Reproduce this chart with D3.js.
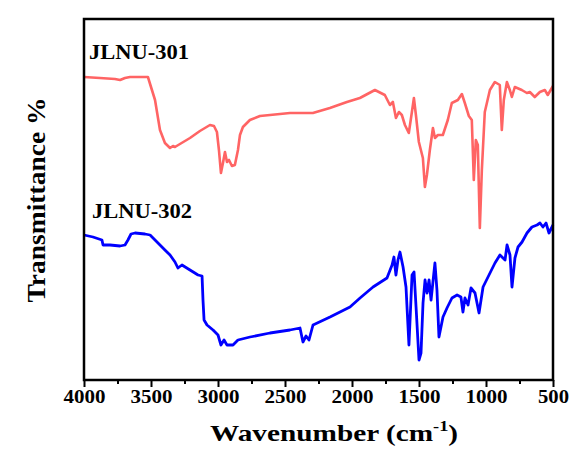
<!DOCTYPE html>
<html>
<head>
<meta charset="utf-8">
<script src="https://cdn.jsdelivr.net/npm/d3@7"></script>
<style>
  body { margin: 0; background: #fff; }
  text { font-family: "Liberation Serif", "Times New Roman", serif; font-weight: bold; fill: #000; }
</style>
</head>
<body>
<div id="wrapper"></div>
<script>
// FTIR spectra, transmittance in arbitrary units
const wn301 = [4000, 3881, 3769, 3731, 3694, 3657, 3582, 3523, 3493, 3470, 3433, 3396, 3358, 3336, 3321, 3284,
  3209, 3135, 3060, 3030, 3008, 2993, 2978, 2963, 2948, 2933, 2918, 2896, 2874, 2851, 2836, 2814, 2762, 2687,
  2612, 2463, 2292, 2165, 2038, 1941, 1829, 1755, 1717, 1695, 1672, 1650, 1628, 1605, 1576, 1553, 1538, 1523,
  1501, 1471, 1456, 1441, 1419, 1396, 1381, 1359, 1322, 1285, 1255, 1210, 1180, 1158, 1128, 1106, 1091, 1076,
  1061, 1046, 1031, 1009, 971, 934, 897, 882, 867, 844, 822, 807, 785, 733, 695, 673, 636, 598, 561, 539, 500];
const t301 = [303, 302, 301, 300, 302, 303, 303, 303, 290, 280, 250, 237, 232, 234, 233, 236,
  242, 249, 255, 254, 248, 230, 207, 217, 228, 218, 220, 214, 215, 230, 245, 253, 260, 264,
  265, 267, 267, 272, 278, 282, 290, 285, 275, 278, 262, 268, 265, 255, 247, 268, 282, 265,
  238, 222, 193, 205, 230, 252, 242, 245, 245, 260, 277, 280, 286, 277, 264, 260, 200, 240,
  235, 152, 210, 268, 290, 298, 295, 250, 280, 298, 290, 283, 293, 290, 287, 288, 283, 288, 290, 285, 294];

const wn302 = [4000, 3933, 3866, 3858, 3806, 3731, 3694, 3672, 3649, 3619, 3545, 3507, 3470, 3396, 3358, 3321,
  3299, 3269, 3209, 3149, 3119, 3112, 3104, 3082, 3037, 3000, 2978, 2955, 2933, 2888, 2851, 2761, 2612, 2463,
  2388, 2366, 2343, 2321, 2291, 2164, 2015, 1940, 1843, 1739, 1701, 1687, 1672, 1657, 1642, 1619, 1597, 1575,
  1552, 1537, 1522, 1500, 1485, 1470, 1455, 1440, 1425, 1410, 1396, 1381, 1366, 1351, 1321, 1291, 1254, 1216,
  1187, 1172, 1157, 1134, 1112, 1082, 1052, 1022, 985, 933, 896, 858, 843, 821, 806, 784, 761, 731, 694, 657,
  619, 597, 575, 552, 530, 500];
const t302 = [145, 143, 140, 135, 135, 134, 135, 140, 146, 147, 146, 145, 140, 130, 125, 118,
  112, 115, 110, 105, 104, 80, 60, 55, 50, 45, 35, 40, 35, 35, 40, 43, 47, 50,
  52, 38, 44, 40, 55, 63, 73, 82, 93, 102, 115, 123, 105, 120, 128, 113, 93, 35,
  105, 108, 73, 20, 27, 77, 100, 87, 100, 80, 98, 117, 90, 43, 63, 72, 82, 85,
  83, 68, 82, 75, 92, 87, 67, 93, 103, 117, 125, 120, 135, 125, 93, 122, 133, 138, 147, 153,
  155, 157, 153, 157, 147, 155];

const xTicks = [4000, 3500, 3000, 2500, 2000, 1500, 1000, 500];
const xMinor = [3750, 3250, 2750, 2250, 1750, 1250, 750];
const labels = ["JLNU-301", "JLNU-302"];

const width = 572, height = 450;
const margin = { top: 19, right: 19, bottom: 70, left: 84 };

const svg = d3.select("#wrapper").append("svg")
  .attr("width", width)
  .attr("height", height);

const x = d3.scaleLinear()
  .domain([4000, 500])
  .range([margin.left, width - margin.right]);

const y = d3.scaleLinear()
  .domain([0, 361])
  .range([height - margin.bottom, margin.top]);

// minor ticks first, then majors with labels
svg.append("g")
  .attr("transform", `translate(0,${height - margin.bottom})`)
  .call(d3.axisBottom(x).tickValues(xMinor).tickSize(4).tickFormat("").tickSizeOuter(0))
  .call(g => g.select(".domain").remove())
  .call(g => g.selectAll("line").attr("stroke", "#000").attr("stroke-width", 2));

const axisX = svg.append("g")
  .attr("transform", `translate(0,${height - margin.bottom})`)
  .call(d3.axisBottom(x).tickValues(xTicks).tickSize(7).tickPadding(3).tickFormat(d3.format("d")).tickSizeOuter(0));
axisX.select(".domain").remove();
axisX.selectAll("line").attr("stroke", "#000").attr("stroke-width", 2);
axisX.selectAll("text")
  .attr("font-size", 19)
  .attr("fill", "#000")
  .attr("textLength", d => d >= 1000 ? 42 : 31)
  .attr("lengthAdjust", "spacingAndGlyphs");

const line = d3.line()
  .x(d => x(d[0]))
  .y(d => y(d[1]));

svg.append("path")
  .datum(d3.zip(wn301, t301))
  .attr("fill", "none")
  .attr("stroke", "#ff6464")
  .attr("stroke-width", 2.6)
  .attr("stroke-linejoin", "round")
  .attr("d", line);

svg.append("path")
  .datum(d3.zip(wn302, t302))
  .attr("fill", "none")
  .attr("stroke", "#0000ff")
  .attr("stroke-width", 2.8)
  .attr("stroke-linejoin", "round")
  .attr("d", line);

// frame
svg.append("rect")
  .attr("x", margin.left)
  .attr("y", margin.top)
  .attr("width", width - margin.left - margin.right)
  .attr("height", height - margin.top - margin.bottom)
  .attr("fill", "none")
  .attr("stroke", "#000")
  .attr("stroke-width", 2.5);

svg.append("text")
  .attr("x", 89).attr("y", 59)
  .attr("font-size", 21)
  .attr("textLength", 100)
  .attr("lengthAdjust", "spacingAndGlyphs")
  .text(labels[0]);

svg.append("text")
  .attr("x", 92).attr("y", 218)
  .attr("font-size", 21)
  .attr("textLength", 100)
  .attr("lengthAdjust", "spacingAndGlyphs")
  .text(labels[1]);

// x title, stretched sideways like the source figure
const xTitle = svg.append("text")
  .attr("transform", "translate(210,441) scale(1.22,1)")
  .attr("font-size", 24);
xTitle.append("tspan").text("Wavenumber (cm");
xTitle.append("tspan").attr("font-size", 15).attr("dy", -10).text("-1");
xTitle.append("tspan").attr("dy", 10).text(")");

svg.append("text")
  .attr("transform", "translate(45,200) rotate(-90)")
  .attr("text-anchor", "middle")
  .attr("font-size", 26)
  .attr("textLength", 205)
  .attr("lengthAdjust", "spacingAndGlyphs")
  .text("Transmittance %");
</script>
</body>
</html>
